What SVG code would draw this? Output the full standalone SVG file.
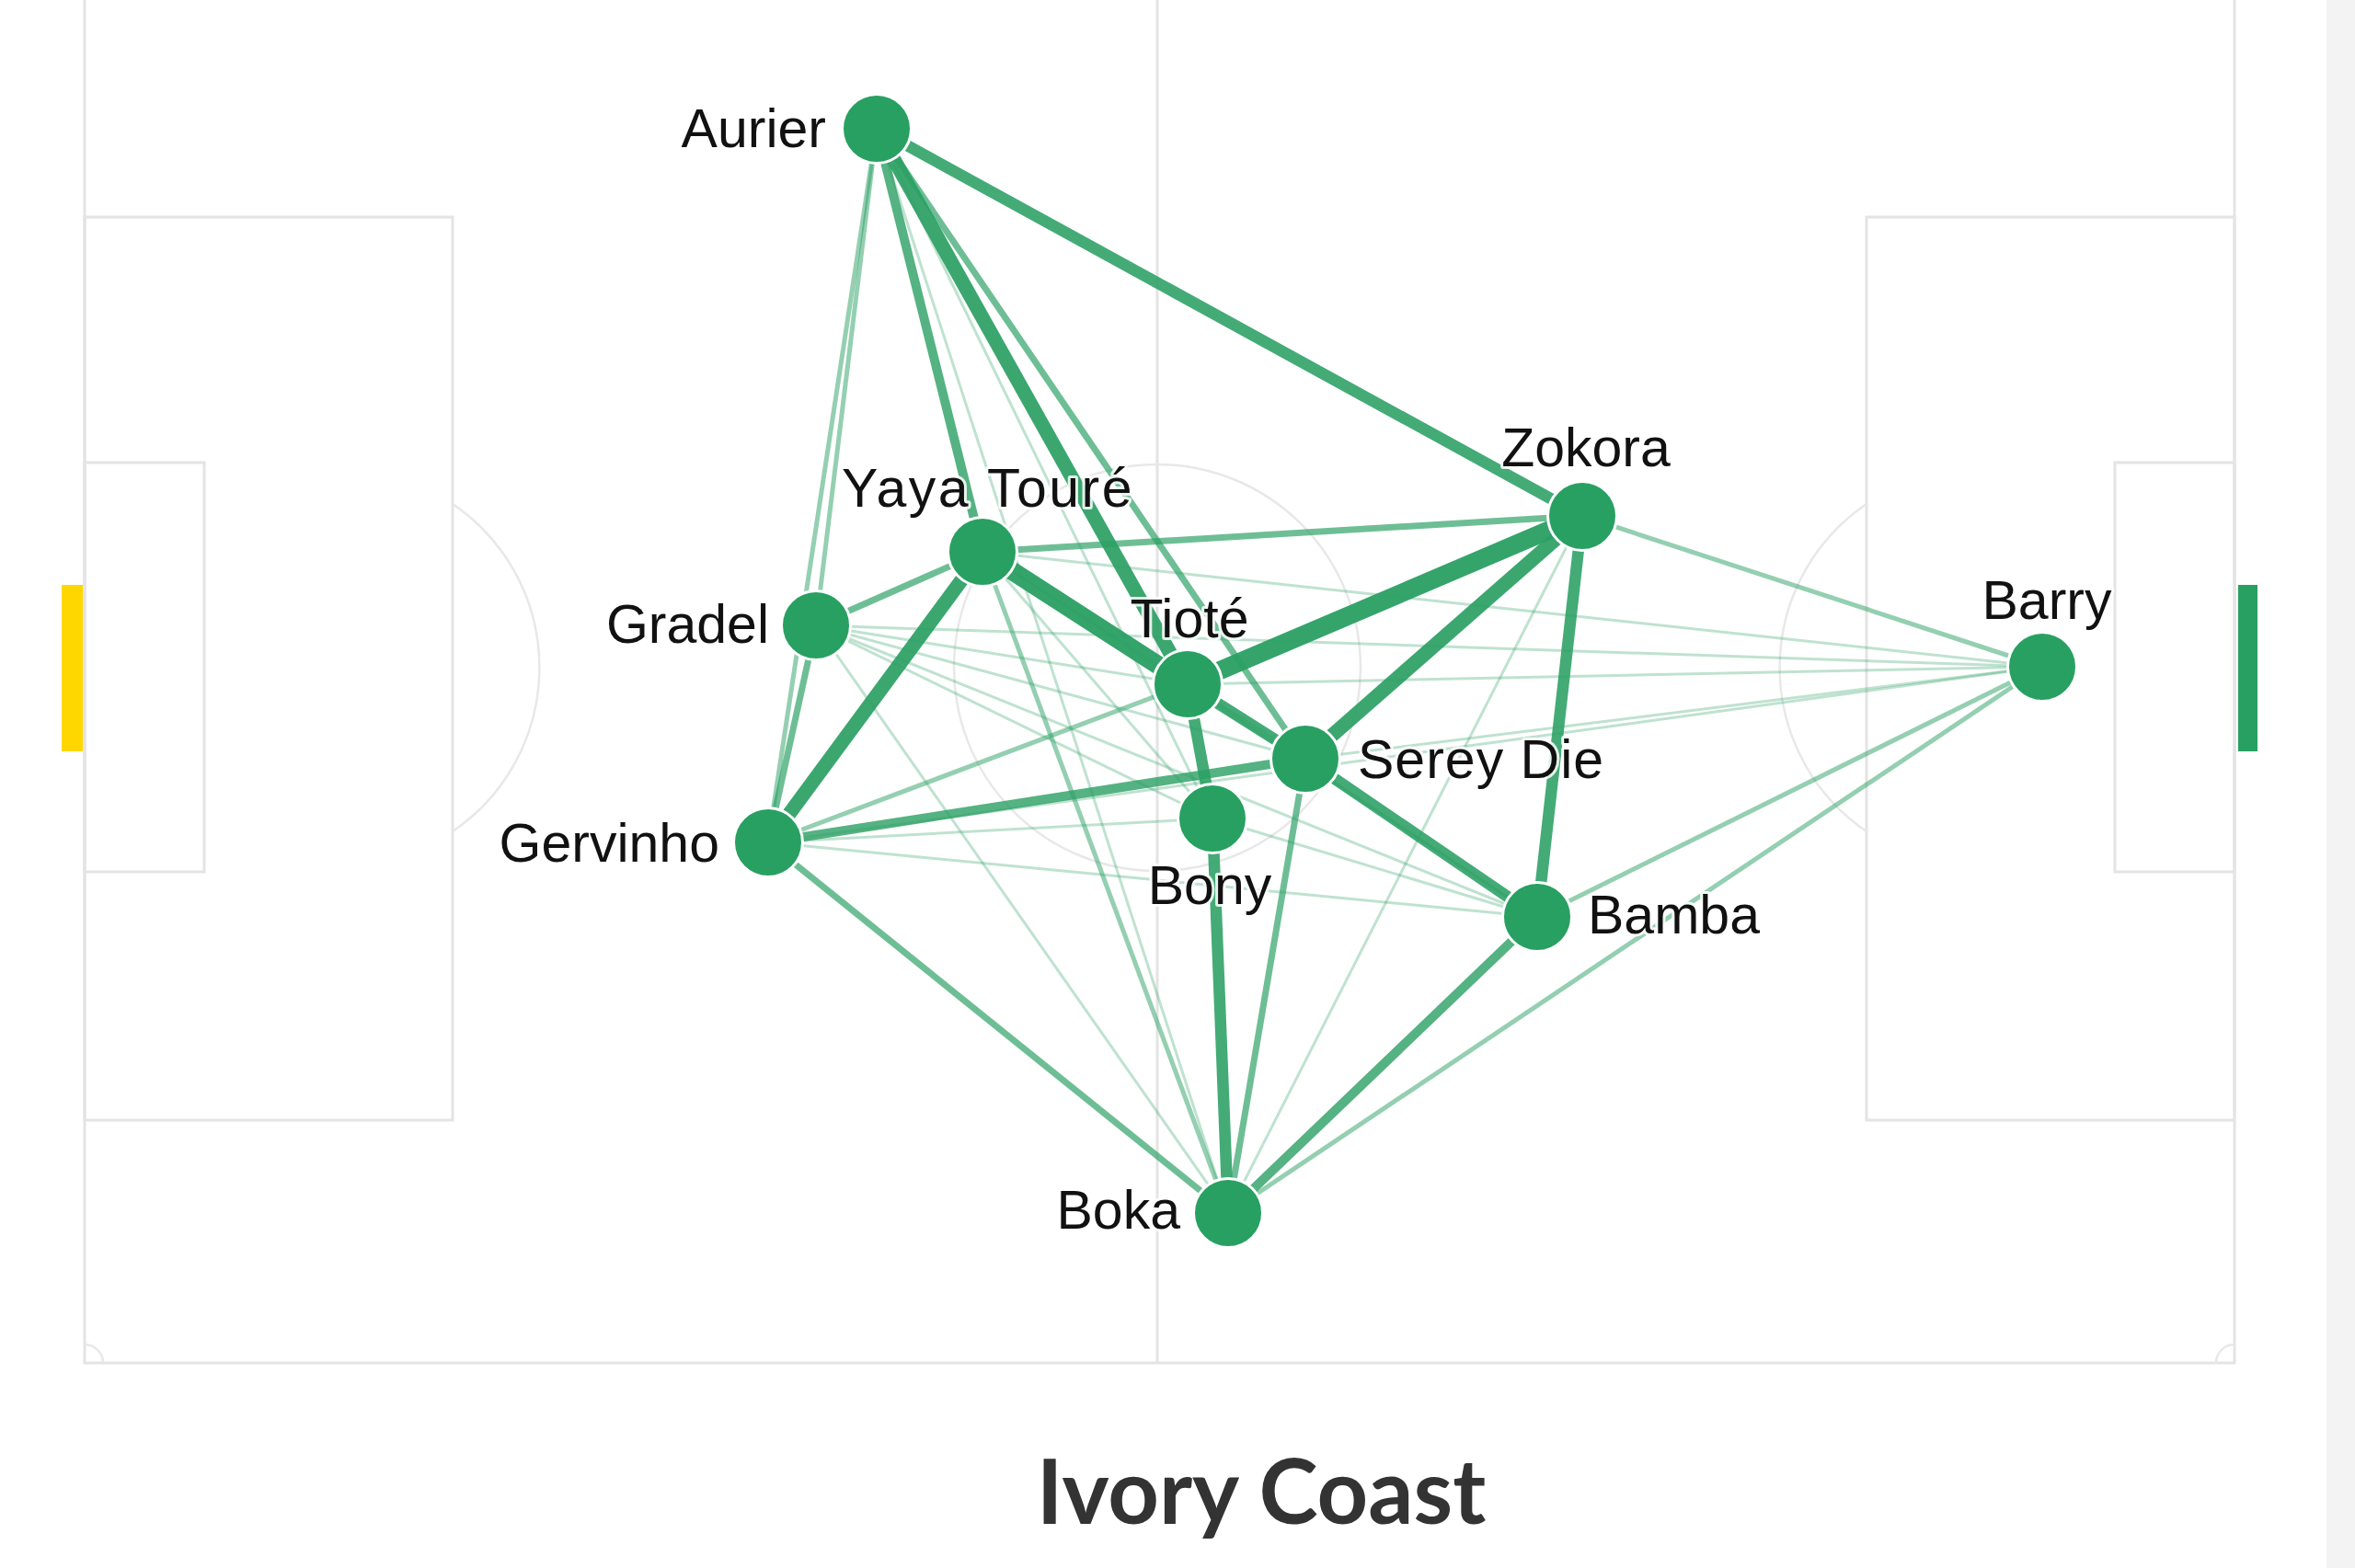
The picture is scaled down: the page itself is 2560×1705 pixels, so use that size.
<svg xmlns="http://www.w3.org/2000/svg" width="2560" height="1705" viewBox="0 0 2560 1705">
<style>
.pitch{fill:none;stroke:#e4e4e4;stroke-width:3}
.arc{fill:none;stroke:#e8e8e8;stroke-width:2.5}
.e{stroke:#2a9f63;stroke-linecap:butt;fill:none}
.w1{stroke-width:3;stroke-opacity:0.3}
.w2{stroke-width:5;stroke-opacity:0.5}
.w3{stroke-width:7;stroke-opacity:0.68}
.w4{stroke-width:10;stroke-opacity:0.8}
.w5{stroke-width:12.5;stroke-opacity:0.88}
.w6{stroke-width:15.5;stroke-opacity:0.92}
.w7{stroke-width:20;stroke-opacity:0.95}
.node circle{fill:#28a062;stroke:#ffffff;stroke-width:3}
.lbl{font-family:"Liberation Sans",Arial,sans-serif;font-size:59px;fill:#111111;stroke:#ffffff;stroke-width:6;stroke-opacity:0.85;stroke-linejoin:round;paint-order:stroke fill}
.title{font-family:Lato,"Open Sans",sans-serif;font-weight:bold;font-size:97px;fill:#333333}
</style>
<rect x="0" y="0" width="2560" height="1705" fill="#ffffff"/>
<rect x="2529" y="0" width="31" height="1705" fill="#f3f3f3"/>
<g id="pitch">
<rect class="pitch" x="92" y="-30" width="2337" height="1512"/>
<line class="pitch" x1="1258" y1="-30" x2="1258" y2="1482"/>
<circle class="arc" cx="1258" cy="726" r="221"/>
<rect class="pitch" x="92" y="236" width="400" height="982"/>
<rect class="pitch" x="92" y="503" width="130" height="445"/>
<rect class="pitch" x="2029" y="236" width="400" height="982"/>
<rect class="pitch" x="2299" y="503" width="130" height="445"/>
<path class="arc" d="M492 548 A215 215 0 0 1 492 904"/>
<path class="arc" d="M2029 548 A215 215 0 0 0 2029 904"/>
<path class="arc" d="M92 1462 A20 20 0 0 1 112 1482"/>
<path class="arc" d="M2429 1462 A20 20 0 0 0 2409 1482"/>
<rect x="67" y="636" width="23" height="181" fill="#ffd700"/>
<rect x="2433" y="636" width="21" height="181" fill="#28a062"/>
</g>
<g id="connectors">
<line class="e w1" x1="953" y1="140" x2="1318" y2="890"/>
<line class="e w1" x1="953" y1="140" x2="1335" y2="1319"/>
<line class="e w1" x1="1068" y1="600" x2="1318" y2="890"/>
<line class="e w1" x1="1068" y1="600" x2="1419" y2="825"/>
<line class="e w1" x1="1068" y1="600" x2="1671" y2="997"/>
<line class="e w1" x1="1068" y1="600" x2="2220" y2="725"/>
<line class="e w1" x1="887" y1="680" x2="1291" y2="744"/>
<line class="e w1" x1="887" y1="680" x2="1419" y2="825"/>
<line class="e w1" x1="887" y1="680" x2="1318" y2="890"/>
<line class="e w1" x1="887" y1="680" x2="1671" y2="997"/>
<line class="e w1" x1="887" y1="680" x2="2220" y2="725"/>
<line class="e w1" x1="887" y1="680" x2="1335" y2="1319"/>
<line class="e w1" x1="835" y1="916" x2="1318" y2="890"/>
<line class="e w1" x1="835" y1="916" x2="1671" y2="997"/>
<line class="e w1" x1="835" y1="916" x2="2220" y2="725"/>
<line class="e w1" x1="1291" y1="744" x2="2220" y2="725"/>
<line class="e w1" x1="1291" y1="744" x2="1671" y2="997"/>
<line class="e w1" x1="1419" y1="825" x2="2220" y2="725"/>
<line class="e w1" x1="1318" y1="890" x2="1671" y2="997"/>
<line class="e w1" x1="1720" y1="561" x2="1335" y2="1319"/>
<line class="e w2" x1="953" y1="140" x2="887" y2="680"/>
<line class="e w2" x1="953" y1="140" x2="835" y2="916"/>
<line class="e w2" x1="1068" y1="600" x2="1335" y2="1319"/>
<line class="e w2" x1="835" y1="916" x2="1291" y2="744"/>
<line class="e w2" x1="1720" y1="561" x2="2220" y2="725"/>
<line class="e w2" x1="1671" y1="997" x2="2220" y2="725"/>
<line class="e w2" x1="1335" y1="1319" x2="2220" y2="725"/>
<line class="e w3" x1="953" y1="140" x2="1419" y2="825"/>
<line class="e w3" x1="1068" y1="600" x2="887" y2="680"/>
<line class="e w3" x1="1068" y1="600" x2="1720" y2="561"/>
<line class="e w3" x1="887" y1="680" x2="835" y2="916"/>
<line class="e w3" x1="835" y1="916" x2="1335" y2="1319"/>
<line class="e w3" x1="1419" y1="825" x2="1335" y2="1319"/>
<line class="e w4" x1="953" y1="140" x2="1068" y2="600"/>
<line class="e w4" x1="835" y1="916" x2="1419" y2="825"/>
<line class="e w4" x1="1671" y1="997" x2="1335" y2="1319"/>
<line class="e w5" x1="953" y1="140" x2="1720" y2="561"/>
<line class="e w5" x1="1291" y1="744" x2="1419" y2="825"/>
<line class="e w5" x1="1291" y1="744" x2="1318" y2="890"/>
<line class="e w5" x1="1419" y1="825" x2="1671" y2="997"/>
<line class="e w5" x1="1318" y1="890" x2="1335" y2="1319"/>
<line class="e w5" x1="1720" y1="561" x2="1671" y2="997"/>
<line class="e w6" x1="953" y1="140" x2="1291" y2="744"/>
<line class="e w6" x1="1068" y1="600" x2="835" y2="916"/>
<line class="e w6" x1="1419" y1="825" x2="1720" y2="561"/>
<line class="e w7" x1="1068" y1="600" x2="1291" y2="744"/>
<line class="e w7" x1="1291" y1="744" x2="1720" y2="561"/>
</g>
<g id="node-aurier" class="node"><circle cx="953" cy="140" r="37.5"/><text class="lbl" x="898" y="160" text-anchor="end">Aurier</text></g>
<g id="node-yaya-toure" class="node"><circle cx="1068" cy="600" r="37.5"/><text class="lbl" x="1074" y="551" text-anchor="middle" letter-spacing="2.5">Yaya Touré</text></g>
<g id="node-gradel" class="node"><circle cx="887" cy="680" r="37.5"/><text class="lbl" x="836" y="699" text-anchor="end">Gradel</text></g>
<g id="node-tiote" class="node"><circle cx="1291" cy="744" r="37.5"/><text class="lbl" x="1293" y="693" text-anchor="middle">Tioté</text></g>
<g id="node-serey-die" class="node"><circle cx="1419" cy="825" r="37.5"/><text class="lbl" x="1476" y="846" text-anchor="start" letter-spacing="1">Serey Die</text></g>
<g id="node-bony" class="node"><circle cx="1318" cy="890" r="37.5"/><text class="lbl" x="1315" y="983" text-anchor="middle">Bony</text></g>
<g id="node-gervinho" class="node"><circle cx="835" cy="916" r="37.5"/><text class="lbl" x="782" y="937" text-anchor="end">Gervinho</text></g>
<g id="node-zokora" class="node"><circle cx="1720" cy="561" r="37.5"/><text class="lbl" x="1724" y="507" text-anchor="middle">Zokora</text></g>
<g id="node-barry" class="node"><circle cx="2220" cy="725" r="37.5"/><text class="lbl" x="2225" y="673" text-anchor="middle">Barry</text></g>
<g id="node-bamba" class="node"><circle cx="1671" cy="997" r="37.5"/><text class="lbl" x="1726" y="1015" text-anchor="start">Bamba</text></g>
<g id="node-boka" class="node"><circle cx="1335" cy="1319" r="37.5"/><text class="lbl" x="1283" y="1336" text-anchor="end">Boka</text></g>
<text class="title" x="1371" y="1657" text-anchor="middle">Ivory Coast</text>
</svg>
